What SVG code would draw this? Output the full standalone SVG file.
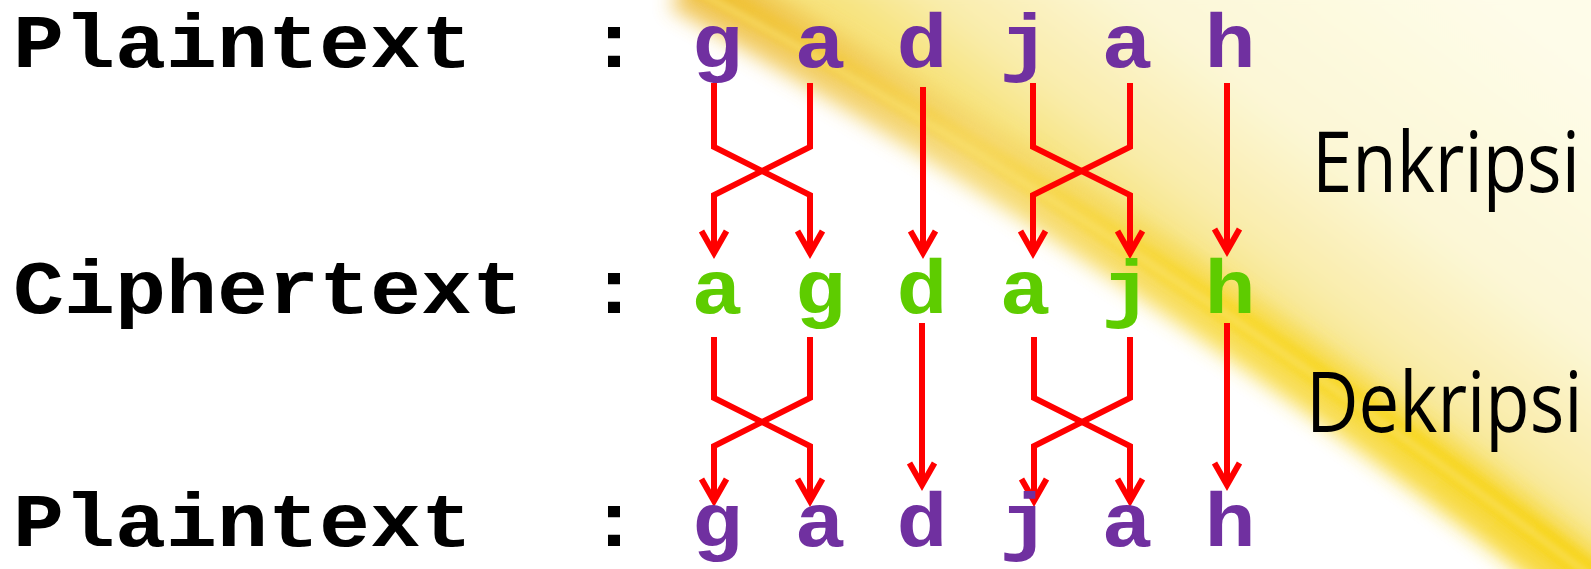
<svg xmlns="http://www.w3.org/2000/svg" width="1591" height="569" viewBox="0 0 1591 569">
<style>
.mono{font-family:"Liberation Mono","Courier New",monospace;font-weight:bold;font-size:76px}
.lbl{fill:#000000}
.p{fill:#7030A0}
.c{fill:#5ECC00}
.side{font-family:"Open Sans","Noto Sans",sans-serif;font-size:72.5px;fill:#000000}
.conn{fill:none;stroke:#FF0000;stroke-width:6;stroke-linejoin:miter;marker-end:url(#ah)}
</style>
<defs>
<marker id="ah" markerUnits="userSpaceOnUse" markerWidth="40" markerHeight="40" viewBox="-30 -20 40 40" refX="0" refY="0" orient="auto" overflow="visible">
<path d="M-22,-12.5 L0,0 L-22,12.5" fill="none" stroke="#FF0000" stroke-width="6"/>
</marker>
<filter id="blur" x="-30%" y="-30%" width="160%" height="160%"><feGaussianBlur stdDeviation="10"/></filter>
<filter id="blur2" x="-30%" y="-30%" width="160%" height="160%"><feGaussianBlur stdDeviation="3.5"/></filter>
<linearGradient id="cream" gradientUnits="userSpaceOnUse" x1="1180" y1="260" x2="1420" y2="-60">
<stop offset="0" stop-color="#f7e37e"/>
<stop offset="0.15" stop-color="#f9ecaa"/>
<stop offset="0.45" stop-color="#fcf7d6"/>
<stop offset="1" stop-color="#fefce9"/>
</linearGradient>
<linearGradient id="bandg" gradientUnits="userSpaceOnUse" x1="700" y1="0" x2="1560" y2="560">
<stop offset="0" stop-color="#eebd3c"/>
<stop offset="0.3" stop-color="#f4d465"/>
<stop offset="0.6" stop-color="#f7d838"/>
<stop offset="1" stop-color="#f6d21a"/>
</linearGradient>
<linearGradient id="coreg" gradientUnits="userSpaceOnUse" x1="700" y1="0" x2="1560" y2="560">
<stop offset="0" stop-color="#f0c030"/>
<stop offset="0.3" stop-color="#f6d656"/>
<stop offset="0.6" stop-color="#f8d828"/>
<stop offset="1" stop-color="#f7d418"/>
</linearGradient>
</defs>
<g id="background">
<rect width="1591" height="569" fill="#ffffff"/>
<path d="M690,-20 C900,90 1250,300 1640,600 L1640,-20 Z" fill="url(#cream)" filter="url(#blur)"/>
<path d="M685,-20 C890,95 1235,305 1620,610" fill="none" stroke="url(#bandg)" stroke-width="62" filter="url(#blur)" opacity="0.85"/>
<path d="M688,-20 C895,92 1240,302 1630,605" fill="none" stroke="url(#coreg)" stroke-width="24" filter="url(#blur2)" opacity="0.8"/>
<path d="M702,-6 C905,102 1250,312 1640,614" fill="none" stroke="#fbe67a" stroke-width="5" filter="url(#blur2)" opacity="0.7"/>
</g>
<g id="connectors">
<polyline class="conn" points="714,83 714,147 810,195 810,253"/>
<polyline class="conn" points="810,83 810,147 714,195 714,253"/>
<polyline class="conn" points="923,87 923,253"/>
<polyline class="conn" points="1033,83 1033,147 1130,195 1130,253"/>
<polyline class="conn" points="1130,83 1130,147 1033,195 1033,253"/>
<polyline class="conn" points="1227,83 1227,251"/>
<polyline class="conn" points="714,337 714,398 810,446 810,501"/>
<polyline class="conn" points="810,337 810,398 714,446 714,501"/>
<polyline class="conn" points="922,323 922,485"/>
<polyline class="conn" points="1034,337 1034,398 1130,446 1130,501"/>
<polyline class="conn" points="1130,337 1130,398 1034,446 1034,501"/>
<polyline class="conn" points="1227,323 1227,485"/>
</g>
<g id="row-plaintext-1">
<text class="mono lbl" x="13" y="67" textLength="459" lengthAdjust="spacingAndGlyphs">Plaintext</text>
<text class="mono lbl" x="588.5" y="67" textLength="51" lengthAdjust="spacingAndGlyphs">:</text>
</g>
<g id="p1-g"><text class="mono p" x="691.5" y="67" textLength="51" lengthAdjust="spacingAndGlyphs">g</text></g>
<g id="p1-a"><text class="mono p" x="794.5" y="67" textLength="51" lengthAdjust="spacingAndGlyphs">a</text></g>
<g id="p1-d"><text class="mono p" x="896.5" y="67" textLength="51" lengthAdjust="spacingAndGlyphs">d</text></g>
<g id="p1-j"><text class="mono p" x="999.5" y="67" textLength="51" lengthAdjust="spacingAndGlyphs">j</text></g>
<g id="p1-a2"><text class="mono p" x="1101.5" y="67" textLength="51" lengthAdjust="spacingAndGlyphs">a</text></g>
<g id="p1-h"><text class="mono p" x="1204.5" y="67" textLength="51" lengthAdjust="spacingAndGlyphs">h</text></g>
<g id="row-ciphertext">
<text class="mono lbl" x="13" y="313" textLength="510" lengthAdjust="spacingAndGlyphs">Ciphertext</text>
<text class="mono lbl" x="588.5" y="313" textLength="51" lengthAdjust="spacingAndGlyphs">:</text>
</g>
<g id="c-a"><text class="mono c" x="691.5" y="313" textLength="51" lengthAdjust="spacingAndGlyphs">a</text></g>
<g id="c-g"><text class="mono c" x="794.5" y="313" textLength="51" lengthAdjust="spacingAndGlyphs">g</text></g>
<g id="c-d"><text class="mono c" x="896.5" y="313" textLength="51" lengthAdjust="spacingAndGlyphs">d</text></g>
<g id="c-a2"><text class="mono c" x="999.5" y="313" textLength="51" lengthAdjust="spacingAndGlyphs">a</text></g>
<g id="c-j"><text class="mono c" x="1101.5" y="313" textLength="51" lengthAdjust="spacingAndGlyphs">j</text></g>
<g id="c-h"><text class="mono c" x="1204.5" y="313" textLength="51" lengthAdjust="spacingAndGlyphs">h</text></g>
<g id="row-plaintext-2">
<text class="mono lbl" x="13" y="546" textLength="459" lengthAdjust="spacingAndGlyphs">Plaintext</text>
<text class="mono lbl" x="588.5" y="546" textLength="51" lengthAdjust="spacingAndGlyphs">:</text>
</g>
<g id="p2-g"><text class="mono p" x="691.5" y="546" textLength="51" lengthAdjust="spacingAndGlyphs">g</text></g>
<g id="p2-a"><text class="mono p" x="794.5" y="546" textLength="51" lengthAdjust="spacingAndGlyphs">a</text></g>
<g id="p2-d"><text class="mono p" x="896.5" y="546" textLength="51" lengthAdjust="spacingAndGlyphs">d</text></g>
<g id="p2-j"><text class="mono p" x="999.5" y="546" textLength="51" lengthAdjust="spacingAndGlyphs">j</text></g>
<g id="p2-a2"><text class="mono p" x="1101.5" y="546" textLength="51" lengthAdjust="spacingAndGlyphs">a</text></g>
<g id="p2-h"><text class="mono p" x="1204.5" y="546" textLength="51" lengthAdjust="spacingAndGlyphs">h</text></g>
<g id="label-enkripsi" transform="translate(1312,192) scale(1,1.16)"><text class="side" x="0" y="0">Enkripsi</text></g>
<g id="label-dekripsi" transform="translate(1306,432) scale(1,1.16)"><text class="side" x="0" y="0">Dekripsi</text></g>
</svg>
